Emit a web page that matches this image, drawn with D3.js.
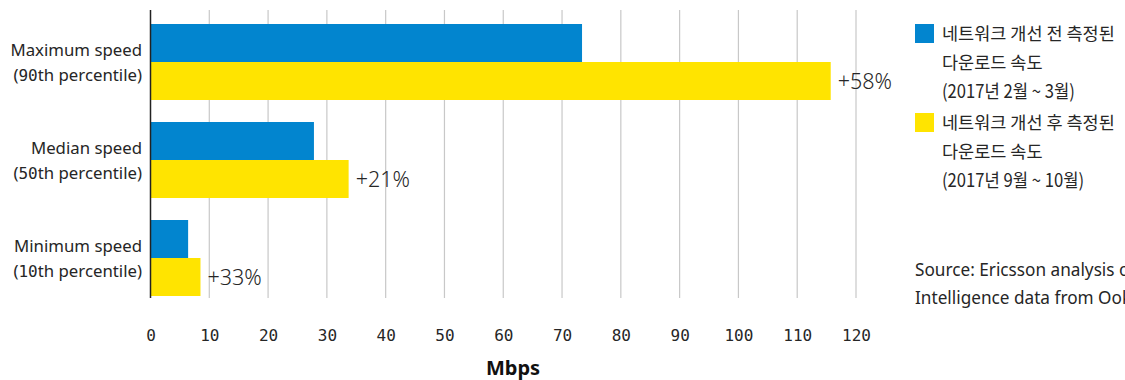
<!DOCTYPE html>
<html>
<head>
<meta charset="utf-8">
<script src="https://cdn.jsdelivr.net/npm/d3@7"></script>
<style>
  html, body { margin: 0; padding: 0; background: #fff; overflow: hidden; }
  svg { display: block; }
</style>
</head>
<body>
<svg id="chart" width="1125" height="380"></svg>
<script>
// Download speed percentiles, before and after the network upgrade (Mbps)
const categories = ["Maximum speed", "Median speed", "Minimum speed"];
const subLabels = ["(90th percentile)", "(50th percentile)", "(10th percentile)"];
const beforeValues = [73.4, 27.8, 6.4];
const afterValues = [115.7, 33.7, 8.5];
const changeLabels = ["+58%", "+21%", "+33%"];
const xTicks = [0, 10, 20, 30, 40, 50, 60, 70, 80, 90, 100, 110, 120];
const seriesNames = ["before", "after"];
const legendLines = [
  ["네트워크 개선 전 측정된", "다운로드 속도", "(2017년 2월 ~ 3월)"],
  ["네트워크 개선 후 측정된", "다운로드 속도", "(2017년 9월 ~ 10월)"]
];
const sourceLines = ["Source: Ericsson analysis of Speedtest", "Intelligence data from Ookla"];

const colors = { before: "#0285cf", after: "#ffe400" };
const textColor = "#262626";
const sans = "'Noto Sans', 'Open Sans', sans-serif";
const mono = "'DejaVu Sans Mono', monospace";
const kr = "'Noto Sans CJK KR', sans-serif";

const svg = d3.select("#chart");

const x = d3.scaleLinear().domain([0, 120]).range([150.5, 856]);
const y = d3.scaleBand().domain(categories).range([13, 307])
  .paddingInner(22 / 98).paddingOuter(11 / 98);
const ySub = d3.scaleBand().domain(seriesNames).range([0, y.bandwidth()]);

// vertical gridlines
svg.append("g").selectAll("line")
  .data(xTicks.filter(d => d > 0))
  .join("line")
  .attr("x1", d => x(d)).attr("x2", d => x(d))
  .attr("y1", 10).attr("y2", 298)
  .attr("stroke", "#c8c8c8").attr("stroke-width", 1.2);

// bars
const rows = categories.map((c, i) => ({
  cat: c, before: beforeValues[i], after: afterValues[i], label: changeLabels[i], sub: subLabels[i]
}));

const groups = svg.append("g").selectAll("g")
  .data(rows).join("g")
  .attr("transform", d => `translate(0,${y(d.cat)})`);

groups.selectAll("rect")
  .data(d => seriesNames.map(k => ({ key: k, value: d[k] })))
  .join("rect")
  .attr("x", x(0))
  .attr("y", d => ySub(d.key))
  .attr("width", d => x(d.value) - x(0))
  .attr("height", ySub.bandwidth())
  .attr("fill", d => colors[d.key]);

// percentage change labels next to the "after" bars
groups.append("text")
  .attr("x", d => x(d.after) + 7)
  .attr("y", ySub("after") + ySub.bandwidth() / 2)
  .attr("dy", "0.35em")
  .attr("font-family", sans)
  .attr("font-weight", 300)
  .attr("font-size", 21.5)
  .attr("fill", textColor)
  .text(d => d.label);

// category labels, digits set in mono
const catText = groups.append("text")
  .attr("text-anchor", "end")
  .attr("font-family", sans)
  .attr("font-size", 16.8)
  .attr("fill", textColor);
catText.append("tspan")
  .attr("x", 142).attr("y", ySub("before") + ySub.bandwidth() / 2 + 13)
  .text(d => d.cat);
catText.append("tspan")
  .attr("x", 142).attr("y", ySub("after") + ySub.bandwidth() / 2 + 0)
  .each(function (d) {
    const parts = d.sub.match(/(\D*)(\d+)(.*)/);
    const t = d3.select(this);
    t.append("tspan").text(parts[1]);
    t.append("tspan").attr("font-family", mono).attr("font-size", 16).text(parts[2]);
    t.append("tspan").text(parts[3]);
  });

// y axis line
svg.append("line")
  .attr("x1", x(0)).attr("x2", x(0))
  .attr("y1", 10).attr("y2", 298)
  .attr("stroke", "#222").attr("stroke-width", 1.5);

// x axis ticks
const xAxis = d3.axisBottom(x).tickValues(xTicks).tickSize(0).tickPadding(0);
const gx = svg.append("g").attr("transform", "translate(0,330)").call(xAxis);
gx.select(".domain").remove();
gx.selectAll("text")
  .attr("font-family", mono)
  .attr("font-size", 16)
  .attr("fill", textColor)
  .attr("dy", "0.35em")
  .attr("y", 5);

svg.append("text")
  .attr("x", 513).attr("y", 375)
  .attr("text-anchor", "middle")
  .attr("font-family", sans)
  .attr("font-weight", "bold")
  .attr("font-size", 20)
  .attr("fill", "#111")
  .text("Mbps");

// legend
const legend = svg.append("g").selectAll("g")
  .data(seriesNames).join("g")
  .attr("transform", (d, i) => `translate(915,${24 + i * 89})`);
legend.append("rect")
  .attr("width", 19).attr("height", 19)
  .attr("fill", d => colors[d]);
legend.each(function (d, i) {
  const g = d3.select(this);
  const lines = legendLines[i];
  g.append("text").attr("x", 27).attr("y", 16)
    .attr("font-family", kr).attr("font-size", 17.5).attr("fill", textColor)
    .text(lines[0]);
  g.append("text").attr("x", 27).attr("y", 45)
    .attr("font-family", kr).attr("font-size", 17.5).attr("fill", textColor)
    .text(lines[1]);
  g.append("text").attr("x", 27).attr("y", 74)
    .attr("font-family", kr).attr("font-size", 18.5).attr("fill", textColor)
    .attr("transform", "translate(27,0) scale(0.9,1) translate(-27,0)")
    .text(lines[2]);
});

// source note
svg.append("g").selectAll("text")
  .data(sourceLines).join("text")
  .attr("x", 915)
  .attr("y", (d, i) => 276 + i * 28)
  .attr("font-family", sans)
  .attr("font-size", 17.2)
  .attr("fill", textColor)
  .text(d => d);
</script>
</body>
</html>
